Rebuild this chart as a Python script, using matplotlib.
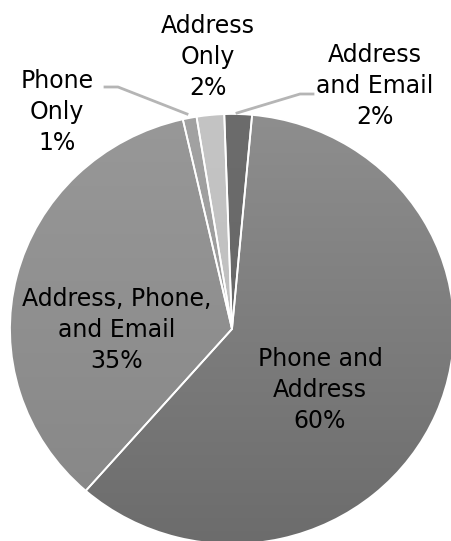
import numpy as np
import matplotlib.pyplot as plt

labels = ["Address\nand Email", "Phone and\nAddress", "Address, Phone,\nand Email",
          "Phone\nOnly", "Address\nOnly"]
shares = [2, 60, 35, 1, 2]
# (gray at top of pie, gray at bottom of pie), 0-255
grays = [(108, 100), (142, 108), (152, 134), (162, 150), (196, 188)]

W, H = 452, 541
# the pie is slightly wider than tall
sy = 222 / 215

fig = plt.figure(figsize=(W / 100, H / 100), dpi=100)
ax = fig.add_axes([0, 0, 1, 1])

cx, cy, r = 232, (H - 329) * sy, 222

wedges, _ = ax.pie(shares, startangle=92, counterclock=False, center=(cx, cy),
                   radius=r, frame=True,
                   wedgeprops=dict(facecolor="none", edgecolor="white", linewidth=1.3, zorder=3))

# vertical shading inside every wedge
n = 256
t = np.linspace(0, 1, n)[:, None]
for w, (top, bot) in zip(wedges, grays):
    g = (top + (bot - top) * t) / 255.0
    img = np.repeat(g[:, :, None], 3, axis=2)
    im = ax.imshow(img, extent=(cx - r, cx + r, cy - r, cy + r), origin="upper",
                   aspect="auto", zorder=1, interpolation="bilinear")
    im.set_clip_path(w)
ax.set_aspect("auto")
ax.set_xlim(0, W)
ax.set_ylim(0, H * sy)
ax.axis("off")


def py(y):
    # pixel row -> data y
    return (H - y) * sy


font = dict(fontsize=17, family="DejaVu Sans", color="black", ha="center",
            va="center", linespacing=1.38)


def pct(i):
    return f"{labels[i]}\n{shares[i]}%"


ax.text(375, py(86), pct(0), **font)
ax.text(320, py(390), pct(1), **font)
ax.text(117, py(330), pct(2), **font)
ax.text(57, py(112), pct(3), **font)
ax.text(208, py(57), pct(4), **font)

# leader lines for the small slices
lc = "#b5b5b5"
ax.plot([105, 118, 187], [py(87), py(87), py(114)], color=lc, lw=2, zorder=4)
ax.plot([237, 300, 313], [py(113), py(94), py(94)], color=lc, lw=2, zorder=4)

fig.savefig("out.png", dpi=100)
